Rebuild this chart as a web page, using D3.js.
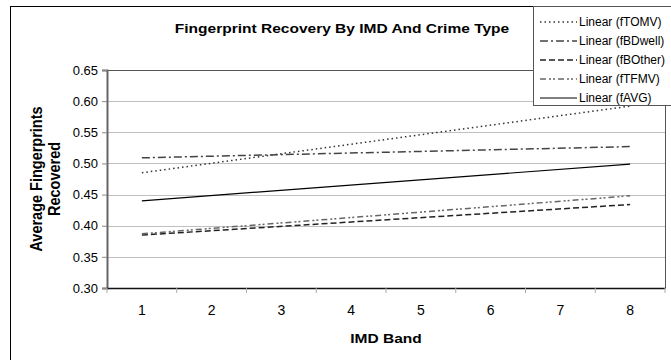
<!DOCTYPE html>
<html>
<head>
<meta charset="utf-8">
<script src="https://cdn.jsdelivr.net/npm/d3@7"></script>
<style>
  body { margin: 0; background: #fff; }
  text { font-family: "Liberation Sans", Arial, sans-serif; fill: #000; }
</style>
</head>
<body>
<svg id="chart" width="671" height="360"></svg>
<script>
// IMD bands on the x axis
var bands = [1, 2, 3, 4, 5, 6, 7, 8]

// linear trend lines, value at band 1 and at band 8
var trendBands = [1, 8]
var fTOMV = [0.485, 0.592]
var fBDwell = [0.509, 0.527]
var fBOther = [0.385, 0.434]
var fTFMV = [0.387, 0.448]
var fAVG = [0.440, 0.499]

var seriesNames = ["Linear (fTOMV)", "Linear (fBDwell)", "Linear (fBOther)", "Linear (fTFMV)", "Linear (fAVG)"]
var seriesValues = [fTOMV, fBDwell, fBOther, fTFMV, fAVG]

var yTicks = [0.30, 0.35, 0.40, 0.45, 0.50, 0.55, 0.60, 0.65]

// line look for each series
var dashes = ["1.5,3", "8,3,2,3", "6,3", "6,3,2,2,2,3", null]
var strokes = ["#333", "#444", "#222", "#666", "#000"]

// the picture is a bit wider than tall, so the bold titles get stretched
var stretch = 1.15

var svg = d3.select("#chart")

// outer chart border (runs off the page on right and bottom)
svg.append("rect")
  .attr("x", 10.5).attr("y", 6.5)
  .attr("width", 700).attr("height", 400)
  .attr("fill", "#fff").attr("stroke", "#000").attr("stroke-width", 1)

var plotL = 107, plotR = 665, plotT = 70, plotB = 288

var x = d3.scaleBand().domain(bands).range([plotL, plotR])
var xPos = function(b){ return x(b) + x.bandwidth() / 2 }
var y = d3.scaleLinear().domain([0.30, 0.65]).range([plotB, plotT])

// gridlines
svg.selectAll("grid")
  .data(yTicks.slice(1, -1))
  .enter()
  .append("line")
    .attr("x1", plotL).attr("x2", plotR)
    .attr("y1", function(d){ return Math.round(y(d)) + 0.5 })
    .attr("y2", function(d){ return Math.round(y(d)) + 0.5 })
    .attr("stroke", "#c0c0c0").attr("stroke-width", 1)

// plot border top and right
svg.append("path")
  .attr("d", "M" + plotL + "," + (plotT + 0.5) + "H" + (plotR + 0.5) + "V" + plotB)
  .attr("fill", "none").attr("stroke", "#555").attr("stroke-width", 1)

// y axis
var yAxis = svg.append("g")
  .attr("transform", "translate(" + plotL + ",0)")
  .call(d3.axisLeft(y).tickValues(yTicks).tickFormat(d3.format(".2f")).tickSize(5).tickPadding(4))
yAxis.select(".domain").attr("stroke", "#666").attr("stroke-width", 2)
yAxis.selectAll(".tick line").attr("stroke", "#888")
yAxis.selectAll("text").style("font-size", "13px").style("font-family", "Liberation Sans, Arial, sans-serif")

// x axis, ticks between the bands
var xAxis = svg.append("g")
  .attr("transform", "translate(0," + plotB + ")")
  .call(d3.axisBottom(x).tickSize(0).tickPadding(17))
xAxis.select(".domain").attr("stroke", "#111").attr("stroke-width", 1.5)
xAxis.selectAll("text").style("font-size", "14px").style("font-family", "Liberation Sans, Arial, sans-serif")
svg.selectAll("xticks")
  .data(bands.concat([9]))
  .enter()
  .append("line")
    .attr("x1", function(d){ return d < 9 ? x(d) : plotR })
    .attr("x2", function(d){ return d < 9 ? x(d) : plotR })
    .attr("y1", plotB).attr("y2", plotB + 5)
    .attr("stroke", "#aaa")

// trend lines
var line = d3.line()
  .x(function(d){ return xPos(d[0]) })
  .y(function(d){ return y(d[1]) })

svg.selectAll("trend")
  .data(seriesValues)
  .enter()
  .append("path")
    .attr("d", function(d){ return line(trendBands.map(function(b, i){ return [b, d[i]] })) })
    .attr("fill", "none")
    .attr("stroke", function(d, i){ return strokes[i] })
    .attr("stroke-width", function(d, i){ return i == 4 ? 1.2 : 1.5 })
    .attr("stroke-dasharray", function(d, i){ return dashes[i] })

// title
svg.append("text")
  .attr("transform", "translate(342,33) scale(" + stretch + ",1)")
  .attr("text-anchor", "middle")
  .style("font-size", "13.5px").style("font-weight", "bold")
  .text("Fingerprint Recovery By IMD And Crime Type")

// axis titles
svg.append("text")
  .attr("transform", "translate(" + (plotL + plotR) / 2 + ",343) scale(" + stretch + ",1)")
  .attr("text-anchor", "middle")
  .style("font-size", "13.5px").style("font-weight", "bold")
  .text("IMD Band")

var yTitle = svg.append("text")
  .attr("transform", "translate(42," + (plotT + plotB) / 2 + ") scale(" + stretch + ",1) rotate(-90)")
  .attr("text-anchor", "middle")
  .style("font-size", "14.5px").style("font-weight", "bold")
yTitle.append("tspan").attr("x", 0).attr("dy", 0).text("Average Fingerprints")
yTitle.append("tspan").attr("x", 0).attr("dy", 15.5).text("Recovered")

// legend box
var legX = 533, legY = 6
svg.append("rect")
  .attr("x", legX + 0.5).attr("y", legY + 0.5)
  .attr("width", 150).attr("height", 99)
  .attr("fill", "#fff").attr("stroke", "#555")

var size = 19
svg.selectAll("legline")
  .data(seriesNames)
  .enter()
  .append("line")
    .attr("x1", legX + 7).attr("x2", legX + 44)
    .attr("y1", function(d, i){ return legY + 16 + i * size })
    .attr("y2", function(d, i){ return legY + 16 + i * size })
    .attr("stroke", function(d, i){ return strokes[i] })
    .attr("stroke-width", function(d, i){ return i == 4 ? 1.2 : 1.5 })
    .attr("stroke-dasharray", function(d, i){ return dashes[i] })

svg.selectAll("leglabel")
  .data(seriesNames)
  .enter()
  .append("text")
    .attr("x", legX + 46)
    .attr("y", function(d, i){ return legY + 16 + i * size })
    .attr("dy", "0.35em")
    .style("font-size", "12px")
    .text(function(d){ return d })
</script>
</body>
</html>
